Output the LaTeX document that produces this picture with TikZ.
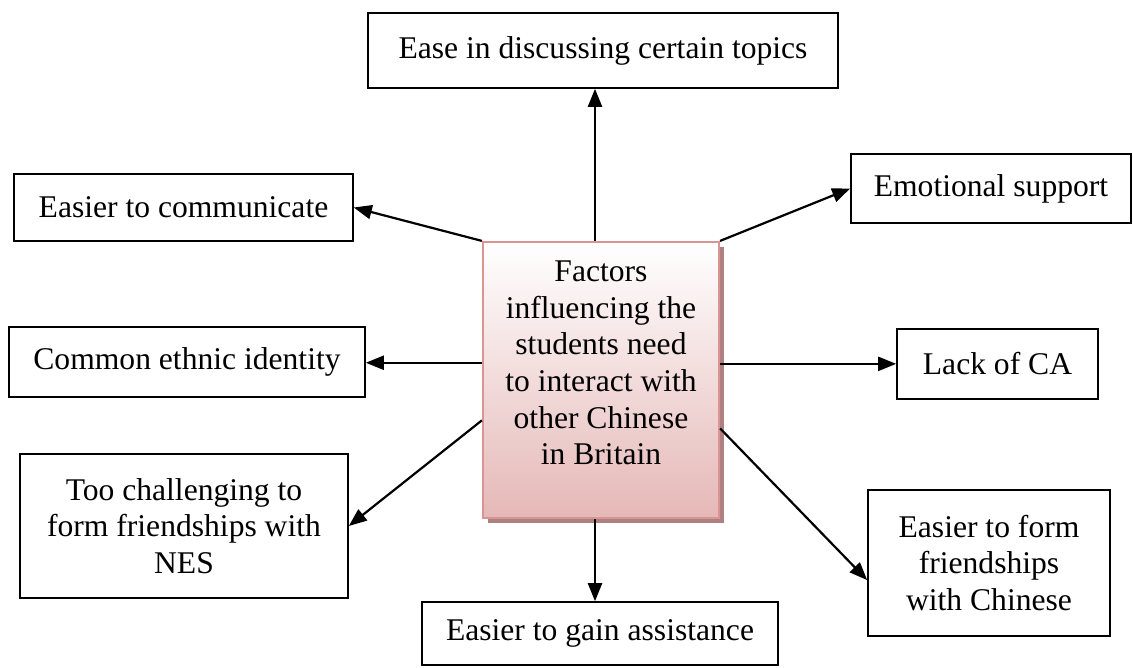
\documentclass[tikz,border=0pt]{standalone}
\usepackage{fontspec}
\setmainfont{Liberation Serif}
\usetikzlibrary{arrows.meta,calc,shadows}

\definecolor{hubedge}{RGB}{217,149,148}
\definecolor{hubfill}{RGB}{229,184,183}
\definecolor{hubshade}{RGB}{176,128,128}

\tikzset{
  box/.style={draw=black, line width=1.6pt, fill=white, inner sep=0pt,
    align=center, font=\fontsize{31.6}{36.7}\selectfont},
  hubbox/.style={draw=hubedge, line width=2.2pt, top color=white,
    bottom color=hubfill, inner sep=0pt,
    drop shadow={shadow xshift=5pt, shadow yshift=-5pt, fill=hubshade, opacity=1}},
  link/.style={line width=2.2pt, -{Triangle[length=18pt,width=14pt]}}
}

\begin{document}
\begin{tikzpicture}[x=1pt,y=-1pt]
  \useasboundingbox (0,0) rectangle (1133,668);

  % central box and its caption
  \node[hubbox, minimum width=236pt, minimum height=276pt] (hub) at (601,380) {};
  \node[align=center, inner sep=0pt, font=\fontsize{31.6}{36.7}\selectfont]
    (hubtext) at (601,363) {Factors\\influencing the\\students need\\to interact with\\other Chinese\\in Britain};

  % surrounding boxes
  \node[box, minimum width=470pt, minimum height=75pt] (topics) at (603,50.5) {Ease in discussing certain topics};
  \node[box, minimum width=339pt, minimum height=67pt] (comm) at (183.5,207.5) {Easier to communicate};
  \node[box, minimum width=280pt, minimum height=69pt] (emo) at (991,188.5) {Emotional support};
  \node[box, minimum width=356pt, minimum height=70pt] (ethnic) at (187,362) {Common ethnic identity};
  \node[box, minimum width=201pt, minimum height=70pt] (lack) at (997.5,364) {Lack of CA};
  \node[box, minimum width=328pt, minimum height=144pt] (chall) at (184,526) {Too challenging to\\form friendships with\\NES};
  \node[box, minimum width=356pt, minimum height=63pt] (assist) at (600,633.5) {Easier to gain assistance};
  \node[box, minimum width=242pt, minimum height=146pt] (form) at (989,563) {Easier to form\\friendships\\with Chinese};

  % connectors
  \draw[link] (hub.north -| topics.south) ++(-8,0) coordinate (tA) -- (tA |- topics.south);
  \draw[link] (hub.north west) -- (comm.east);
  \draw[link] (hub.north east) -- (emo.west);
  \draw[link] ($(hub.north west)!0.438!(hub.south west)$) coordinate (eA) -- (eA -| ethnic.east);
  \draw[link] ($(hub.north east)!0.442!(hub.south east)$) coordinate (lA) -- (lA -| lack.west);
  \draw[link] ($(hub.north west)!0.645!(hub.south west)$) -- (chall.east);
  \draw[link] ($(hub.north east)!0.674!(hub.south east)$) -- ($(form.north west)!0.616!(form.south west)$);
  \draw[link] (hub.south) ++(-6,0) coordinate (bA) -- (bA |- assist.north);
\end{tikzpicture}
\end{document}
